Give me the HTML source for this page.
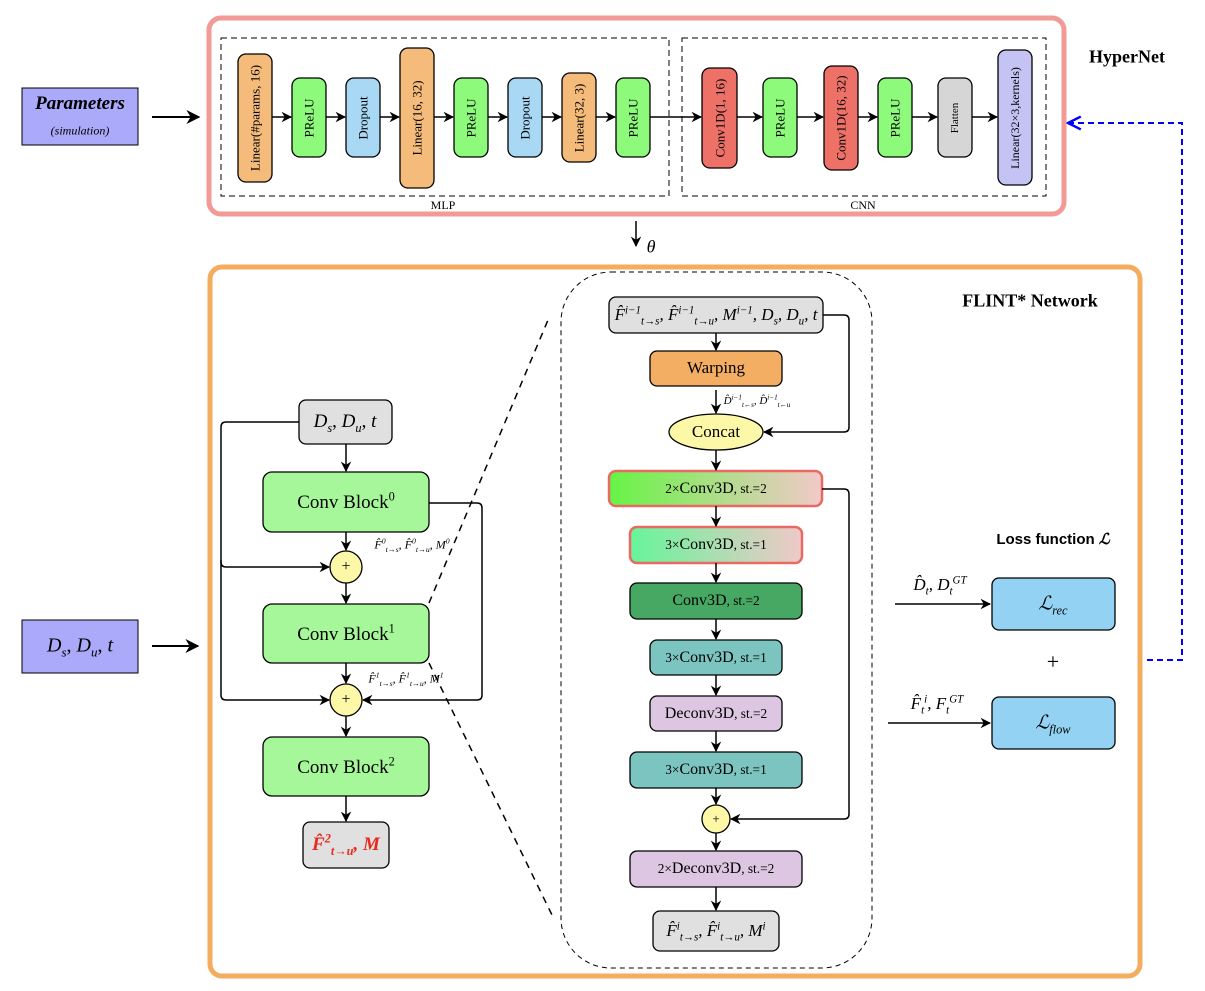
<!DOCTYPE html>
<html><head><meta charset="utf-8"><style>
body{margin:0;width:1205px;height:991px;background:#fff;position:relative;overflow:hidden;font-family:"Liberation Serif",serif;}
.t{position:absolute;white-space:nowrap;transform:translate(-50%,-50%);color:#000;}
.m{font-style:italic}
sub,sup{font-size:65%;line-height:0}
svg{position:absolute;left:0;top:0}
</style></head><body>
<svg width="1205" height="991" viewBox="0 0 1205 991">
<defs>
<marker id="a" viewBox="0 0 10 10" refX="9" refY="5" markerWidth="7" markerHeight="7" orient="auto"><path d="M0,0 L10,5 L0,10 L3,5z" fill="#000"/></marker>
<marker id="b" viewBox="0 0 10 10" refX="9" refY="5" markerWidth="8" markerHeight="8" orient="auto"><path d="M1,1 L9,5 L1,9" fill="none" stroke="#00f" stroke-width="1.5"/></marker>
<linearGradient id="g1" x1="0" x2="1"><stop offset="0" stop-color="#66f445"/><stop offset="1" stop-color="#f2c9c9"/></linearGradient>
<linearGradient id="g2" x1="0" x2="1"><stop offset="0" stop-color="#66f59a"/><stop offset="1" stop-color="#f0c8c8"/></linearGradient>
</defs>
<g stroke="#000" stroke-width="1.3">
<!-- hypernet -->
<rect x="209" y="18" width="855" height="196" rx="12" fill="none" stroke="#f29a96" stroke-width="5"/>
<rect x="221" y="38" width="448" height="158" fill="none" stroke-dasharray="6,4" stroke-width="1"/>
<rect x="682" y="38" width="364" height="158" fill="none" stroke-dasharray="6,4" stroke-width="1"/>
<rect x="238" y="54" width="34" height="128" rx="8" fill="#f5bb7a"/>
<rect x="292" y="78" width="34" height="79" rx="8" fill="#8dfa7c"/>
<rect x="346" y="78" width="34" height="79" rx="8" fill="#a8d8f4"/>
<rect x="400" y="48" width="34" height="140" rx="8" fill="#f5bb7a"/>
<rect x="454" y="78" width="34" height="79" rx="8" fill="#8dfa7c"/>
<rect x="508" y="78" width="34" height="79" rx="8" fill="#a8d8f4"/>
<rect x="562" y="73" width="34" height="89" rx="8" fill="#f5bb7a"/>
<rect x="616" y="78" width="34" height="79" rx="8" fill="#8dfa7c"/>
<rect x="702" y="68" width="35" height="100" rx="8" fill="#ee7168"/>
<rect x="763" y="78" width="34" height="79" rx="8" fill="#8dfa7c"/>
<rect x="824" y="66" width="34" height="104" rx="8" fill="#ee7168"/>
<rect x="878" y="78" width="34" height="79" rx="8" fill="#8dfa7c"/>
<rect x="938" y="78" width="34" height="79" rx="8" fill="#d6d6d6"/>
<rect x="998" y="50" width="34" height="135" rx="8" fill="#c5c3f4"/>
<g marker-end="url(#a)" stroke-width="1.5">
<line x1="272" y1="117" x2="291" y2="117"/><line x1="326" y1="117" x2="345" y2="117"/><line x1="380" y1="117" x2="399" y2="117"/>
<line x1="434" y1="117" x2="453" y2="117"/><line x1="488" y1="117" x2="507" y2="117"/><line x1="542" y1="117" x2="561" y2="117"/>
<line x1="596" y1="117" x2="615" y2="117"/><line x1="650" y1="117" x2="701" y2="117"/><line x1="737" y1="117" x2="762" y2="117"/>
<line x1="797" y1="117" x2="823" y2="117"/><line x1="858" y1="117" x2="877" y2="117"/><line x1="912" y1="117" x2="937" y2="117"/>
<line x1="972" y1="117" x2="997" y2="117"/>
<line x1="152" y1="117" x2="199" y2="117" stroke-width="2"/>
<line x1="636" y1="221" x2="636" y2="246"/>
<line x1="152" y1="646" x2="198" y2="646" stroke-width="2"/>
</g>
<rect x="22" y="88" width="116" height="57" fill="#aba9f9" stroke-width="1"/>
<rect x="22" y="620" width="116" height="53" fill="#aba9f9" stroke-width="1"/>
<polyline points="1147,660 1182,660 1182,123 1068,123" fill="none" stroke="#00f" stroke-width="2" stroke-dasharray="6,4" marker-end="url(#b)"/>
<!-- flint -->
<rect x="210" y="267" width="930" height="709" rx="12" fill="none" stroke="#f4ad5e" stroke-width="5"/>
<rect x="561" y="272" width="311" height="696" rx="50" fill="none" stroke-dasharray="5,4" stroke-width="1"/>
<line x1="429" y1="603" x2="548" y2="320" stroke-dasharray="7,6" stroke-width="1.5"/>
<line x1="429" y1="663" x2="552" y2="915" stroke-dasharray="7,6" stroke-width="1.5"/>
<rect x="299" y="400" width="93" height="44" rx="7" fill="#e0e0e0"/>
<rect x="263" y="472" width="166" height="60" rx="9" fill="#a6f79a"/>
<rect x="263" y="604" width="166" height="59" rx="9" fill="#a6f79a"/>
<rect x="263" y="737" width="166" height="59" rx="9" fill="#a6f79a"/>
<rect x="303" y="822" width="86" height="46" rx="7" fill="#e0e0e0"/>
<circle cx="346" cy="567" r="16" fill="#fdf8a8"/>
<circle cx="346" cy="700" r="16" fill="#fdf8a8"/>
<g fill="none" stroke-width="1.5" marker-end="url(#a)">
<line x1="346" y1="444" x2="346" y2="471"/><line x1="346" y1="532" x2="346" y2="550"/>
<line x1="346" y1="583" x2="346" y2="603"/><line x1="346" y1="663" x2="346" y2="683"/>
<line x1="346" y1="716" x2="346" y2="736"/><line x1="346" y1="796" x2="346" y2="821"/>
<path d="M299,422 H226 Q221,422 221,427 V562 Q221,567 226,567 H329"/>
<path d="M221,560 V695 Q221,700 226,700 H329"/>
<path d="M429,503 H477 Q482,503 482,508 V695 Q482,700 477,700 H363"/>
</g>
<!-- middle -->
<rect x="609" y="297" width="214" height="36" rx="7" fill="#e0e0e0"/>
<rect x="650" y="351" width="132" height="35" rx="7" fill="#f4ae64"/>
<ellipse cx="716" cy="432" rx="47" ry="18" fill="#fdf8a8"/>
<rect x="609" y="471" width="213" height="35" rx="7" fill="url(#g1)" stroke="#e86a62" stroke-width="2.5"/>
<rect x="630" y="527" width="172" height="36" rx="7" fill="url(#g2)" stroke="#e86a62" stroke-width="2.5"/>
<rect x="630" y="583" width="172" height="36" rx="7" fill="#47a863"/>
<rect x="650" y="640" width="132" height="35" rx="7" fill="#7cc4c0"/>
<rect x="650" y="696" width="132" height="35" rx="7" fill="#dcc6e2"/>
<rect x="630" y="752" width="172" height="36" rx="7" fill="#7cc4c0"/>
<circle cx="716" cy="819" r="14" fill="#fdf8a8"/>
<rect x="630" y="851" width="172" height="36" rx="7" fill="#dcc6e2"/>
<rect x="653" y="911" width="126" height="40" rx="7" fill="#e0e0e0"/>
<g fill="none" stroke-width="1.5" marker-end="url(#a)">
<line x1="716" y1="333" x2="716" y2="350"/><line x1="716" y1="390" x2="716" y2="413"/>
<line x1="716" y1="450" x2="716" y2="470"/><line x1="716" y1="506" x2="716" y2="526"/>
<line x1="716" y1="563" x2="716" y2="582"/><line x1="716" y1="619" x2="716" y2="639"/>
<line x1="716" y1="675" x2="716" y2="695"/><line x1="716" y1="731" x2="716" y2="751"/>
<line x1="716" y1="788" x2="716" y2="804"/><line x1="716" y1="833" x2="716" y2="850"/>
<line x1="716" y1="887" x2="716" y2="910"/>
<path d="M823,315 H844 Q849,315 849,320 V427 Q849,432 844,432 H764"/>
<path d="M822,489 H844 Q849,489 849,494 V814 Q849,819 844,819 H731"/>
<line x1="895" y1="604" x2="990" y2="604"/><line x1="888" y1="723" x2="990" y2="723"/>
</g>
<rect x="992" y="578" width="123" height="52" rx="7" fill="#93d2f2"/>
<rect x="992" y="697" width="123" height="52" rx="7" fill="#93d2f2"/>
</g>
<g font-family="Liberation Serif,serif" font-size="13" text-anchor="middle" dominant-baseline="central">
<text transform="translate(255,118) rotate(-90)">Linear(#params, 16)</text>
<text transform="translate(309,118) rotate(-90)">PReLU</text>
<text transform="translate(363,118) rotate(-90)">Dropout</text>
<text transform="translate(417,118) rotate(-90)">Linear(16, 32)</text>
<text transform="translate(471,118) rotate(-90)">PReLU</text>
<text transform="translate(525,118) rotate(-90)">Dropout</text>
<text transform="translate(579,118) rotate(-90)">Linear(32, 3)</text>
<text transform="translate(633,118) rotate(-90)">PReLU</text>
<text transform="translate(720,118) rotate(-90)">Conv1D(1, 16)</text>
<text transform="translate(780,118) rotate(-90)">PReLU</text>
<text transform="translate(841,118) rotate(-90)">Conv1D(16, 32)</text>
<text transform="translate(895,118) rotate(-90)">PReLU</text>
<text transform="translate(955,118) rotate(-90)" font-size="11">Flatten</text>
<text transform="translate(1015,118) rotate(-90)" font-size="12">Linear(32×3,kernels)</text>
<text x="443" y="205" font-size="12">MLP</text>
<text x="863" y="205" font-size="12">CNN</text>
</g>
<div class="t" style="left:1127px;top:57px;font-weight:bold;font-size:18px">HyperNet</div>
<div class="t" style="left:80px;top:104px;font-size:19px;font-weight:bold;font-style:italic">Parameters</div>
<div class="t" style="left:80px;top:131px;font-size:12px;font-style:italic">(simulation)</div>
<div class="t m" style="left:651px;top:247px;font-size:18px">θ</div>
<div class="t" style="left:80px;top:646px;font-size:20px"><i>D<sub>s</sub></i>, <i>D<sub>u</sub></i>, <i>t</i></div>
<div class="t" style="left:1030px;top:301px;font-weight:bold;font-size:18px">FLINT* Network</div>
<div class="t" style="left:345px;top:422px;font-size:19px"><i>D<sub>s</sub></i>, <i>D<sub>u</sub></i>, <i>t</i></div>
<div class="t" style="left:346px;top:503px;font-size:19px">Conv Block<sup>0</sup></div>
<div class="t" style="left:346px;top:635px;font-size:19px">Conv Block<sup>1</sup></div>
<div class="t" style="left:346px;top:768px;font-size:19px">Conv Block<sup>2</sup></div>
<div class="t" style="left:346px;top:567px;font-size:16px">+</div>
<div class="t" style="left:346px;top:700px;font-size:16px">+</div>
<div class="t m" style="left:412px;top:545px;font-size:12px">F̂<sup>0</sup><sub>t→s</sub>, F̂<sup>0</sup><sub>t→u</sub>, M<sup>0</sup></div>
<div class="t m" style="left:406px;top:679px;font-size:12px">F̂<sup>1</sup><sub>t→s</sub>, F̂<sup>1</sup><sub>t→u</sub>, M<sup>1</sup></div>
<div class="t m" style="left:346px;top:845px;font-size:19px;color:#e8291c;font-weight:bold">F̂<sup>2</sup><sub>t→u</sub>, M</div>
<div class="t m" style="left:716px;top:315px;font-size:17px">F̂<sup>i−1</sup><sub>t→s</sub>, F̂<sup>i−1</sup><sub>t→u</sub>, M<sup>i−1</sup>, D<sub>s</sub>, D<sub>u</sub>, t</div>
<div class="t" style="left:716px;top:368px;font-size:17px">Warping</div>
<div class="t m" style="left:757px;top:401px;font-size:11px">D̂<sup>i−1</sup><sub>t←s</sub>, D̂<sup>i−1</sup><sub>t←u</sub></div>
<div class="t" style="left:716px;top:432px;font-size:17px">Concat</div>
<div class="t" style="left:716px;top:489px;font-size:16px"><small>2×</small>Conv3D<small>, st.=2</small></div>
<div class="t" style="left:716px;top:545px;font-size:16px"><small>3×</small>Conv3D<small>, st.=1</small></div>
<div class="t" style="left:716px;top:601px;font-size:16px">Conv3D<small>, st.=2</small></div>
<div class="t" style="left:716px;top:658px;font-size:16px"><small>3×</small>Conv3D<small>, st.=1</small></div>
<div class="t" style="left:716px;top:714px;font-size:16px">Deconv3D<small>, st.=2</small></div>
<div class="t" style="left:716px;top:770px;font-size:16px"><small>3×</small>Conv3D<small>, st.=1</small></div>
<div class="t" style="left:716px;top:819px;font-size:13px">+</div>
<div class="t" style="left:716px;top:869px;font-size:16px"><small>2×</small>Deconv3D<small>, st.=2</small></div>
<div class="t m" style="left:716px;top:931px;font-size:17px">F̂<sup>i</sup><sub>t→s</sub>, F̂<sup>i</sup><sub>t→u</sub>, M<sup>i</sup></div>
<div class="t" style="left:1053px;top:539px;font-size:15px;font-weight:bold;font-family:'Liberation Sans',sans-serif">Loss function <i>ℒ</i></div>
<div class="t m" style="left:940px;top:585px;font-size:17px">D̂<sub>t</sub>, D<sub>t</sub><sup>GT</sup></div>
<div class="t m" style="left:1053px;top:604px;font-size:19px">ℒ<sub>rec</sub></div>
<div class="t" style="left:1053px;top:662px;font-size:22px">+</div>
<div class="t m" style="left:937px;top:704px;font-size:17px">F̂<sub>t</sub><sup>i</sup>, F<sub>t</sub><sup>GT</sup></div>
<div class="t m" style="left:1053px;top:723px;font-size:19px">ℒ<sub>flow</sub></div>
</body></html>
